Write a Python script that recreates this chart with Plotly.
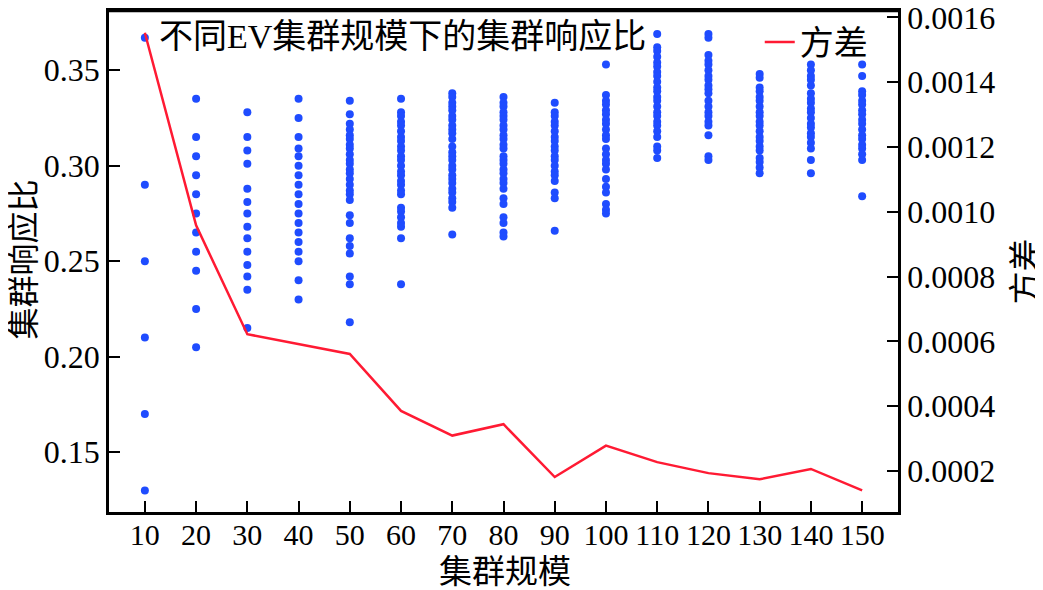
import plotly.graph_objects as go

# cluster sizes
sizes = [10, 20, 30, 40, 50, 60, 70, 80, 90, 100, 110, 120, 130, 140, 150]

# cluster response ratios, one list per cluster size
ratio_10 = [0.367, 0.290, 0.250, 0.210, 0.170, 0.130]
ratio_20 = [0.335, 0.315, 0.305, 0.295, 0.285, 0.275, 0.265, 0.255, 0.245, 0.225, 0.205]
ratio_30 = [0.328, 0.315, 0.308, 0.301, 0.288, 0.281, 0.275, 0.268, 0.262, 0.255, 0.248,
            0.242, 0.235, 0.215]
ratio_40 = [0.335, 0.325, 0.315, 0.309, 0.305, 0.300, 0.295, 0.290, 0.285, 0.280, 0.275,
            0.270, 0.265, 0.260, 0.255, 0.250, 0.240, 0.230]
ratio_50 = [0.334, 0.327, 0.322, 0.319, 0.316, 0.314, 0.311, 0.309, 0.306, 0.303, 0.301,
            0.298, 0.296, 0.293, 0.290, 0.287, 0.285, 0.282, 0.274, 0.270, 0.262, 0.258,
            0.254, 0.242, 0.238, 0.218]
ratio_60 = [0.335, 0.328, 0.326, 0.323, 0.321, 0.318, 0.315, 0.313, 0.310, 0.308, 0.305,
            0.303, 0.300, 0.297, 0.295, 0.292, 0.290, 0.287, 0.285, 0.278, 0.276, 0.273,
            0.270, 0.268, 0.262, 0.238]
ratio_70 = [0.338, 0.336, 0.333, 0.331, 0.329, 0.326, 0.324, 0.321, 0.319, 0.317, 0.314,
            0.310, 0.307, 0.305, 0.303, 0.300, 0.298, 0.295, 0.293, 0.291, 0.288, 0.286,
            0.283, 0.281, 0.278, 0.264]
ratio_80 = [0.336, 0.333, 0.331, 0.328, 0.326, 0.324, 0.321, 0.319, 0.316, 0.314, 0.311,
            0.309, 0.305, 0.303, 0.301, 0.298, 0.296, 0.293, 0.291, 0.288, 0.283, 0.280,
            0.273, 0.270, 0.265, 0.263]
ratio_90 = [0.333, 0.328, 0.326, 0.323, 0.321, 0.318, 0.315, 0.313, 0.310, 0.308, 0.305,
            0.303, 0.300, 0.297, 0.295, 0.292, 0.286, 0.283, 0.266]
ratio_100 = [0.353, 0.337, 0.334, 0.332, 0.329, 0.327, 0.324, 0.322, 0.319, 0.316, 0.314,
             0.309, 0.306, 0.303, 0.301, 0.298, 0.293, 0.289, 0.286, 0.280, 0.277, 0.275]
ratio_110 = [0.369, 0.362, 0.360, 0.357, 0.354, 0.352, 0.349, 0.347, 0.344, 0.341, 0.339,
             0.336, 0.334, 0.331, 0.328, 0.326, 0.323, 0.321, 0.318, 0.315, 0.310, 0.308,
             0.304]
ratio_120 = [0.369, 0.367, 0.358, 0.355, 0.353, 0.350, 0.347, 0.345, 0.342, 0.340, 0.338,
             0.334, 0.331, 0.328, 0.326, 0.323, 0.321, 0.316, 0.305, 0.303]
ratio_130 = [0.348, 0.346, 0.341, 0.339, 0.336, 0.334, 0.331, 0.328, 0.326, 0.323, 0.321,
             0.318, 0.315, 0.313, 0.310, 0.308, 0.304, 0.302, 0.299, 0.296]
ratio_140 = [0.353, 0.350, 0.347, 0.345, 0.342, 0.338, 0.335, 0.333, 0.330, 0.328, 0.325,
             0.322, 0.320, 0.317, 0.315, 0.312, 0.309, 0.303, 0.296]
ratio_150 = [0.353, 0.347, 0.339, 0.337, 0.334, 0.332, 0.329, 0.327, 0.324, 0.322, 0.319,
             0.316, 0.314, 0.311, 0.309, 0.306, 0.303, 0.284]

ratios = [ratio_10, ratio_20, ratio_30, ratio_40, ratio_50, ratio_60, ratio_70, ratio_80,
          ratio_90, ratio_100, ratio_110, ratio_120, ratio_130, ratio_140, ratio_150]

# variance of the ratios per cluster size
variance = [0.001553, 0.000958, 0.000622, 0.000592, 0.000561, 0.000385, 0.000309,
            0.000344, 0.000181, 0.000278, 0.000227, 0.000193, 0.000174, 0.000206, 0.000140]

left_ticks = [0.15, 0.20, 0.25, 0.30, 0.35]
right_ticks = [0.0002, 0.0004, 0.0006, 0.0008, 0.0010, 0.0012, 0.0014, 0.0016]

FONT = 'Liberation Serif, Times New Roman, Noto Sans CJK SC, serif'

scatter_x = [s for s, r in zip(sizes, ratios) for _ in r]
scatter_y = [v for r in ratios for v in r]

fig = go.Figure()
fig.add_trace(go.Scatter(
    x=scatter_x, y=scatter_y, mode='markers',
    marker=dict(color='#1f4cff', size=8, line_width=0),
    showlegend=False, name='集群响应比',
))
fig.add_trace(go.Scatter(
    x=sizes, y=variance, mode='lines', yaxis='y2',
    line=dict(color='#ff1a33', width=2.5),
    name='方差',
))

axis_common = dict(
    automargin=False,
    showline=True, linecolor='black', linewidth=2.5,
    ticks='inside', ticklen=11, tickwidth=1.5, tickcolor='black',
    showgrid=False, zeroline=False,
    ticklabeloverflow='allow',
    tickfont=dict(family=FONT, size=32, color='black'),
)

title_font = dict(family=FONT, size=33, color='black')

# page body has an 8px margin, so the figure is 8px smaller than the window
fig.update_layout(
    width=1035, height=582,
    paper_bgcolor='white', plot_bgcolor='white',
    margin=dict(l=101, r=145, t=3, b=78),
    font=dict(family=FONT, size=30, color='black'),
    xaxis=dict(**axis_common, range=[3, 157], tickvals=sizes, mirror=True),
    yaxis=dict(**axis_common, range=[0.1187, 0.381], tickvals=left_ticks,
               tickformat='.2f'),
    yaxis2=dict(**axis_common, overlaying='y', side='right',
                range=[0.000073, 0.00162], tickvals=right_ticks, tickformat='.4f'),
    legend=dict(
        x=0.968, y=0.995, xanchor='right', yanchor='top',
        bgcolor='rgba(0,0,0,0)', font=dict(family=FONT, size=34),
    ),
    # top border of the frame
    shapes=[dict(type='line', xref='paper', yref='paper', x0=0, x1=1, y0=1, y1=1,
                 line=dict(color='black', width=2.5))],
    annotations=[
        dict(text='不同EV集群规模下的集群响应比', xref='paper', yref='paper',
             x=0.0608, y=0.95, xanchor='left', yanchor='middle', showarrow=False,
             font=dict(family=FONT, size=34, color='black')),
        # axis titles placed by hand so they sit where the reference has them
        dict(text='集群规模', xref='paper', yref='paper',
             x=0.502, y=-0.119, xanchor='center', yanchor='middle',
             showarrow=False, font=title_font),
        dict(text='集群响应比', xref='paper', yref='paper',
             x=-0.1065, y=0.504, xanchor='center', yanchor='middle',
             showarrow=False, textangle=-90,
             font=dict(family=FONT, size=32, color='black')),
        dict(text='方差', xref='paper', yref='paper',
             x=1.161, y=0.48, xanchor='center', yanchor='middle',
             showarrow=False, textangle=-90, font=title_font),
    ],
)
fig.update_xaxes(tickfont_size=30, ticklabelstandoff=-6)

fig.write_html('out.html')
